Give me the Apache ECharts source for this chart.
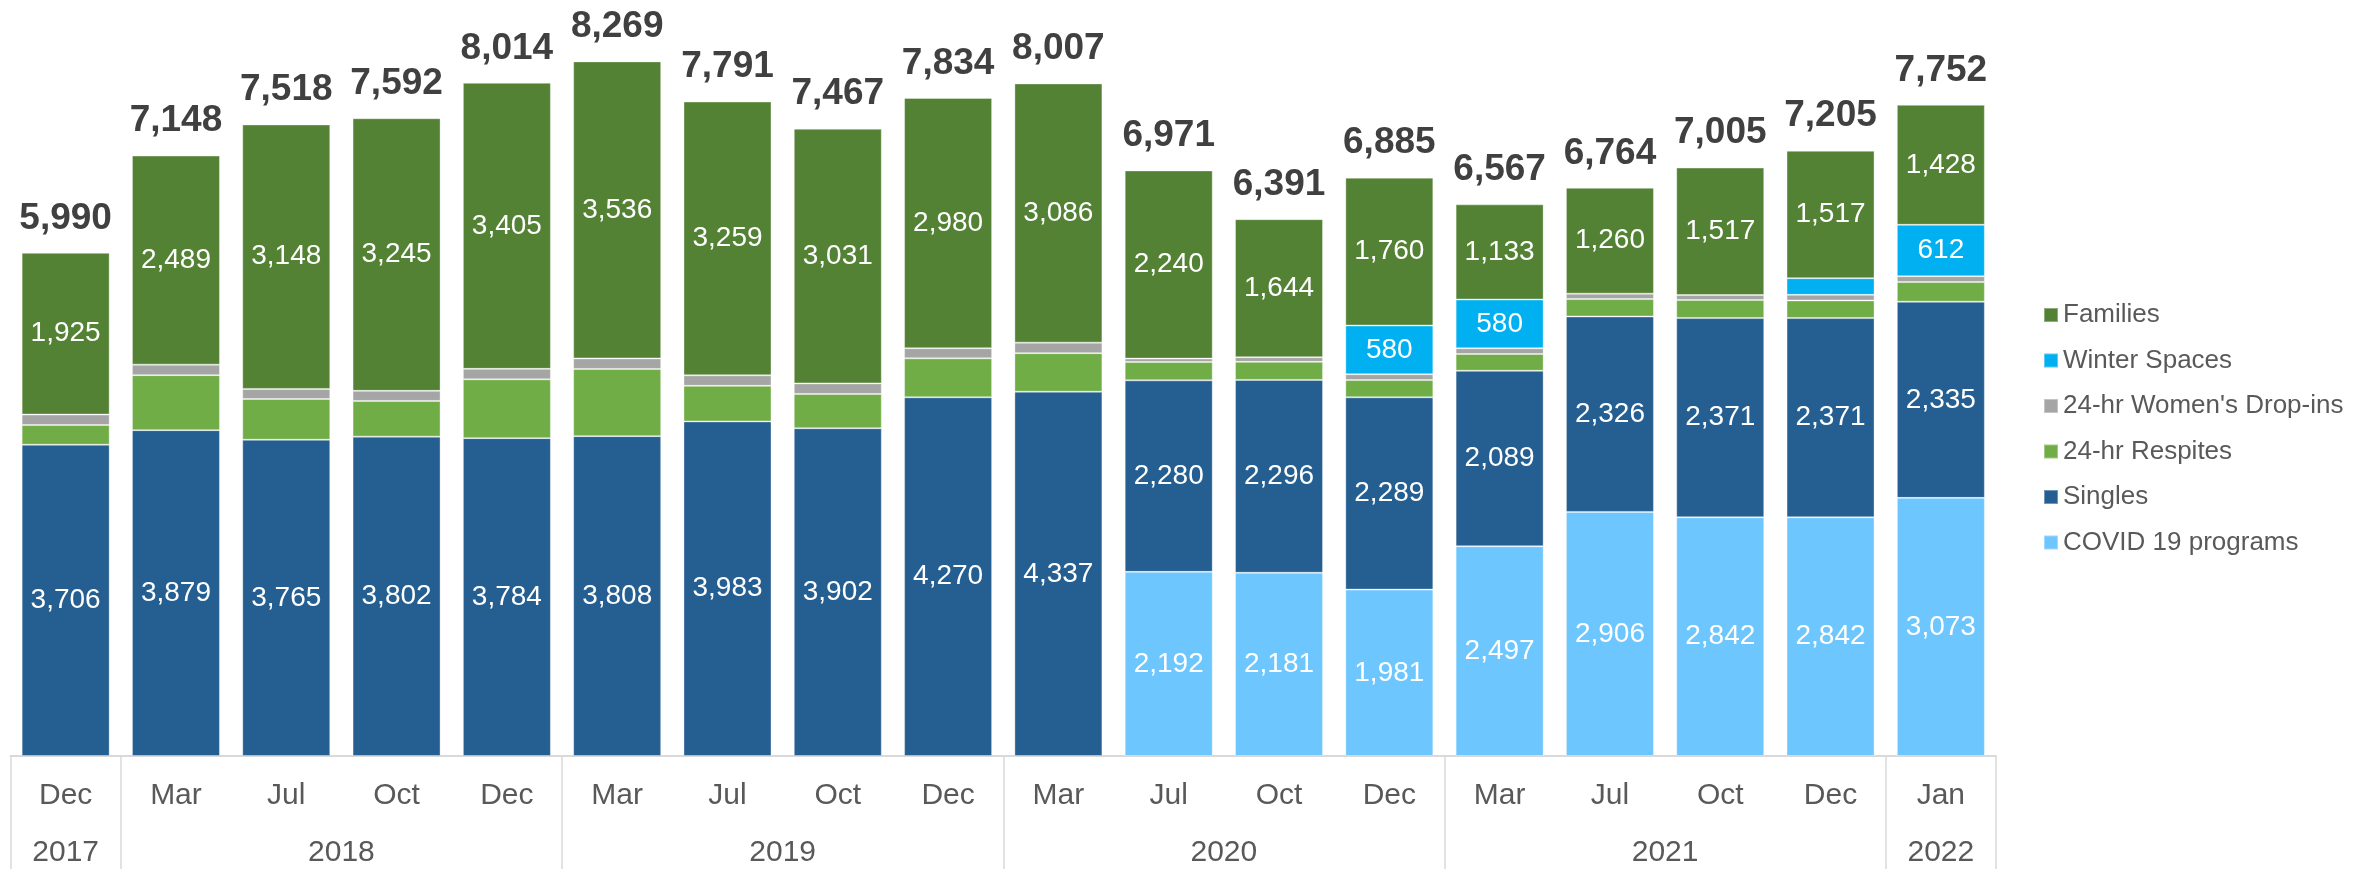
<!DOCTYPE html>
<html>
<head>
<meta charset="utf-8">
<title>Shelter occupancy by program</title>
<script src="https://cdn.jsdelivr.net/npm/echarts@6/dist/echarts.min.js"></script>
<style>
  html, body { margin: 0; padding: 0; background: #ffffff; }
  #main { width: 2369px; height: 869px; }
</style>
</head>
<body>
<div id="main"></div>
<script>
// months along the axis
var months = ["Dec", "Mar", "Jul", "Oct", "Dec", "Mar", "Jul", "Oct", "Dec", "Mar", "Jul", "Oct", "Dec", "Mar", "Jul", "Oct", "Dec", "Jan"];
// year groups: [label, number of months in the group]
var yearGroups = [["2017", 1], ["2018", 4], ["2019", 4], ["2020", 4], ["2021", 4], ["2022", 1]];

var covid = [null, null, null, null, null, null, null, null, null, null, 2192, 2181, 1981, 2497, 2906, 2842, 2842, 3073];
var singles = [3706, 3879, 3765, 3802, 3784, 3808, 3983, 3902, 4270, 4337, 2280, 2296, 2289, 2089, 2326, 2371, 2371, 2335];
var respites = [234, 655, 485, 425, 700, 800, 424, 409, 464, 459, 219, 215, 205, 200, 207, 215, 210, 234];
var dropIns = [125, 125, 120, 120, 125, 125, 125, 125, 120, 125, 40, 55, 70, 68, 65, 60, 67, 70];
var winter = [null, null, null, null, null, null, null, null, null, null, null, null, 580, 580, null, null, 198, 612];
var families = [1925, 2489, 3148, 3245, 3405, 3536, 3259, 3031, 2980, 3086, 2240, 1644, 1760, 1133, 1260, 1517, 1517, 1428];
var totals = [5990, 7148, 7518, 7592, 8014, 8269, 7791, 7467, 7834, 8007, 6971, 6391, 6885, 6567, 6764, 7005, 7205, 7752];

var FONT = "'Liberation Sans', Arial, sans-serif";

// where the year boundaries fall, and the year labels on a half-step axis
var groupStarts = [];
var yearLabels = [];
for (var i = 0; i <= months.length * 2; i++) yearLabels.push("");
var pos = 0;
yearGroups.forEach(function (g) {
  groupStarts.push(pos);
  yearLabels[pos * 2 + g[1]] = g[0];
  pos += g[1];
});

function fmt(v) {
  return v.toLocaleString("en-US");
}

var chart = echarts.init(document.getElementById("main"));

function segment(name, data, color, minLabel) {
  return {
    name: name,
    type: "bar",
    stack: "total",
    barWidth: 88,
    data: data,
    itemStyle: {
      color: color,
      borderColor: "rgba(255,255,255,0.35)",
      borderWidth: 1
    },
    label: {
      show: minLabel != null,
      position: "inside",
      color: "#ffffff",
      fontSize: 28,
      fontFamily: FONT,
      formatter: function (p) {
        if (p.value == null || p.value < minLabel) return "";
        return fmt(p.value);
      }
    }
  };
}

var option = {
  animation: false,
  backgroundColor: "#ffffff",
  textStyle: { fontFamily: FONT },
  grid: {
    left: 10.5,
    right: 373,
    top: 0,
    bottom: 113
  },
  legend: {
    orient: "vertical",
    left: 2038,
    top: 297,
    icon: "rect",
    itemWidth: 14,
    itemHeight: 14,
    itemGap: 19.5,
    itemTextGap: 6,
    textStyle: { color: "#595959", fontSize: 26, fontFamily: FONT },
    data: ["Families", "Winter Spaces", "24-hr Women's Drop-ins", "24-hr Respites", "Singles", "COVID 19 programs"]
  },
  xAxis: [
    {
      type: "category",
      data: months,
      position: "bottom",
      axisLine: { show: true, lineStyle: { color: "#d9d9d9", width: 2 } },
      axisTick: {
        show: true,
        length: 113,
        interval: function (index) {
          return groupStarts.indexOf(index) >= 0;
        },
        lineStyle: { color: "#d9d9d9", width: 1.5 }
      },
      axisLabel: {
        interval: 0,
        margin: 25,
        color: "#595959",
        fontSize: 30,
        fontFamily: FONT
      }
    },
    {
      type: "category",
      data: yearLabels,
      position: "bottom",
      boundaryGap: false,
      axisLine: { show: false },
      axisTick: { show: false },
      axisLabel: {
        interval: 0,
        margin: 82,
        color: "#595959",
        fontSize: 30,
        fontFamily: FONT
      }
    }
  ],
  yAxis: {
    type: "value",
    min: 0,
    max: 9000,
    show: false,
    splitLine: { show: false }
  },
  series: [
    segment("COVID 19 programs", covid, "#6dc6fe", 1),
    segment("Singles", singles, "#255e91", 1),
    segment("24-hr Respites", respites, "#70ad47", null),
    segment("24-hr Women's Drop-ins", dropIns, "#a5a5a5", null),
    segment("Winter Spaces", winter, "#00b0f0", 400),
    segment("Families", families, "#548235", 1),
    {
      name: "Total",
      type: "bar",
      barWidth: 88,
      barGap: "-100%",
      silent: true,
      z: 1,
      data: totals,
      itemStyle: { color: "rgba(0,0,0,0)" },
      label: {
        show: true,
        position: "top",
        distance: 16,
        color: "#404040",
        fontSize: 37,
        fontWeight: "bold",
        fontFamily: FONT,
        formatter: function (p) {
          return fmt(p.value);
        }
      }
    }
  ]
};

chart.setOption(option);
</script>
</body>
</html>
